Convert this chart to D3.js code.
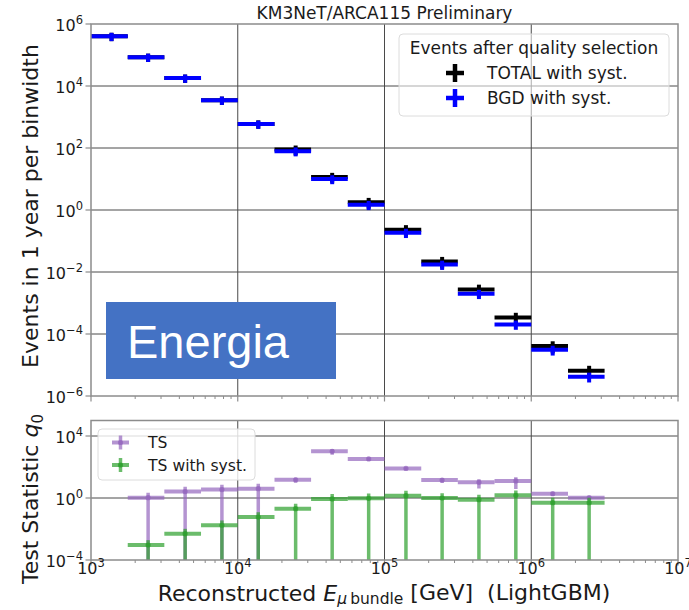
<!DOCTYPE html>
<html>
<head>
<meta charset="utf-8">
<script src="https://cdn.jsdelivr.net/npm/d3@7"></script>
<style>
  body { margin: 0; background: #fff; }
  text { font-family: "DejaVu Sans", sans-serif; }
</style>
</head>
<body>
<div id="chart"></div>
<script>
// energy bins (GeV): edges and marker positions
const binEdges = [1e3, 1.78e3, 3.16e3, 5.62e3, 1e4, 1.78e4, 3.16e4, 5.62e4, 1e5, 1.78e5, 3.16e5, 5.62e5, 1e6, 1.78e6, 3.16e6];
const binCenters = [1.38e3, 2.45e3, 4.38e3, 7.8e3, 1.38e4, 2.48e4, 4.4e4, 7.8e4, 1.4e5, 2.47e5, 4.4e5, 7.85e5, 1.4e6, 2.48e6];

// top panel: events in 1 year per binwidth
const totalEvents = [4.0e5, 8.5e4, 1.8e4, 3.5e3, 6.0e2, 89, 11.7, 1.78, 0.232, 0.0219, 2.75e-3, 3.4e-4, 4.1e-5, 6.5e-6];
const totalErr = [0.3, 0.3, 0.3, 0.3, 0.3, 0.35, 0.35, 0.38, 0.4, 0.4, 0.42, 0.42, 0.42, 0.45]; // relative
const bgdEvents = [4.0e5, 8.5e4, 1.8e4, 3.5e3, 5.9e2, 79, 10, 1.48, 0.186, 0.0174, 2.0e-3, 2.04e-4, 3.1e-5, 4.2e-6];
const bgdErr = [0.3, 0.3, 0.3, 0.3, 0.3, 0.32, 0.32, 0.33, 0.33, 0.33, 0.33, 0.33, 0.35, 0.35];

// bottom panel: test statistic q0 (bins 2..14)
const tsValues = [1.05, 2.6, 3.5, 4.0, 15, 1020, 330, 81, 14.5, 10.2, 12.6, 1.9, 1.05];
const tsErr = [1.05, 1.05, 1.05, 1.05, 0.35, 0.4, 0.25, 0.25, 0.35, 0.6, 0.7, 0.3, 0.3];
const tsSystValues = [9.3e-4, 5.0e-3, 0.0174, 0.059, 0.204, 0.87, 0.95, 1.41, 1.0, 0.78, 1.48, 0.5, 0.5];
const tsSystErr = [1.05, 1.05, 1.05, 1.05, 1.05, 1.05, 1.05, 1.05, 1.05, 1.05, 1.05, 1.05, 1.05];

const xDecades = [1e3, 1e4, 1e5, 1e6, 1e7];
const yTopTicks = [1e6, 1e4, 1e2, 1e0, 1e-2, 1e-4, 1e-6];
const yBotTicks = [1e4, 1e0, 1e-4];

const width = 689, height = 610;
const svg = d3.select("#chart").append("svg")
    .attr("width", width).attr("height", height);

const x = d3.scaleLog().domain([1e3, 1e7]).range([91, 678]);
const yTop = d3.scaleLog().domain([1e-6, 1e6]).range([396, 24]);
const yBot = d3.scaleLog().domain([1e-4, 1e5]).range([560, 420.5]);

const spineColor = "#8c8c8c", gridColor = "#4a4a4a";

function powLabel(sel) {
    sel.each(function (d) {
        const t = d3.select(this);
        const e = Math.round(Math.log10(d));
        t.text(null);
        t.append("tspan").text("10");
        t.append("tspan").attr("dy", "-0.6em").attr("font-size", "11.5px")
            .text(String(e).replace("-", "\u2212"));
    });
}

function panel(y, name) {
    const [y0, y1] = y.range();
    svg.append("clipPath").attr("id", "clip-" + name)
        .append("rect").attr("x", x.range()[0]).attr("y", y1)
        .attr("width", x.range()[1] - x.range()[0]).attr("height", y0 - y1);
    const g = svg.append("g");
    // grid
    g.selectAll(".vg").data([1e4, 1e5, 1e6]).enter().append("line")
        .attr("x1", d => x(d)).attr("x2", d => x(d))
        .attr("y1", y1).attr("y2", y0)
        .attr("stroke", gridColor).attr("stroke-width", 1);
    return g;
}

function frame(y, ticks, showXLabels) {
    const [y0, y1] = y.range();
    const [xa, xb] = x.range();
    const g = svg.append("g");
    // minor x ticks
    const minor = [];
    for (let k = 1e3; k < 1e7; k *= 10) [2, 3, 4, 5, 6, 7, 8, 9].forEach(m => minor.push(k * m));
    g.selectAll(".mx").data(minor).enter().append("line")
        .attr("x1", d => x(d)).attr("x2", d => x(d))
        .attr("y1", y0).attr("y2", y0 + 3)
        .attr("stroke", spineColor).attr("stroke-width", 1);
    g.selectAll(".Mx").data(xDecades).enter().append("line")
        .attr("x1", d => x(d)).attr("x2", d => x(d))
        .attr("y1", y0).attr("y2", y0 + 5.5)
        .attr("stroke", spineColor).attr("stroke-width", 1.2);
    g.selectAll(".My").data(ticks).enter().append("line")
        .attr("x1", xa - 5.5).attr("x2", xa)
        .attr("y1", d => y(d)).attr("y2", d => y(d))
        .attr("stroke", spineColor).attr("stroke-width", 1.2);
    g.append("rect").attr("x", xa).attr("y", y1)
        .attr("width", xb - xa).attr("height", y0 - y1)
        .attr("fill", "none").attr("stroke", spineColor).attr("stroke-width", 1.5);
    g.selectAll(".yl").data(ticks).enter().append("text")
        .attr("x", xa - 8).attr("y", d => y(d) + 7)
        .attr("text-anchor", "end").attr("font-size", "16px").attr("fill", "#1a1a1a")
        .call(powLabel);
    if (showXLabels) {
        g.selectAll(".xl").data(xDecades).enter().append("text")
            .attr("x", d => x(d)).attr("y", y0 + 13.5)
            .attr("text-anchor", "middle").attr("font-size", "16px").attr("fill", "#1a1a1a")
            .call(powLabel);
    }
}

function errorbars(g, y, values, rel, offset, color, opts) {
    const rows = values.map((v, i) => ({
        v, e: v * rel[i],
        x0: binEdges[i + offset], x1: binEdges[i + offset + 1], xc: binCenters[i + offset]
    }));
    const lo = y.domain()[0] / 10;
    const s = g.append("g").attr("clip-path", opts.clip);
    s.selectAll(".h").data(rows).enter().append("line")
        .attr("x1", d => x(d.x0)).attr("x2", d => x(d.x1))
        .attr("y1", d => y(d.v)).attr("y2", d => y(d.v))
        .attr("stroke", color).attr("stroke-width", opts.hw)
        .attr("stroke-opacity", opts.alpha);
    s.selectAll(".v").data(rows).enter().append("line")
        .attr("x1", d => x(d.xc)).attr("x2", d => x(d.xc))
        .attr("y1", d => y(Math.max(d.v - d.e, lo))).attr("y2", d => y(d.v + d.e))
        .attr("stroke", color).attr("stroke-width", opts.vw)
        .attr("stroke-opacity", opts.alpha);
    if (opts.marker) {
        s.selectAll(".m").data(rows).enter().append("circle")
            .attr("cx", d => x(d.xc)).attr("cy", d => y(d.v)).attr("r", opts.marker)
            .attr("fill", color).attr("fill-opacity", opts.alpha);
    }
}

// ---------- top panel ----------
const topG = panel(yTop, "top");
topG.selectAll(".hg").data([1e4, 1e2, 1e0, 1e-2, 1e-4]).enter().append("line")
    .attr("x1", x.range()[0]).attr("x2", x.range()[1])
    .attr("y1", d => yTop(d)).attr("y2", d => yTop(d))
    .attr("stroke", gridColor).attr("stroke-width", 1);

errorbars(topG, yTop, totalEvents, totalErr, 0, "#000000", { clip: "url(#clip-top)", hw: 4, vw: 4, alpha: 1 });
errorbars(topG, yTop, bgdEvents, bgdErr, 0, "#0000ff", { clip: "url(#clip-top)", hw: 4, vw: 4, alpha: 1 });

frame(yTop, yTopTicks, false);

// top legend
const lg = svg.append("g");
lg.append("rect").attr("x", 399).attr("y", 34).attr("width", 270).attr("height", 82)
    .attr("rx", 4).attr("fill", "#fff").attr("fill-opacity", 0.55)
    .attr("stroke", "#dcdcdc").attr("stroke-width", 1);
lg.append("text").attr("x", 534).attr("y", 54).attr("text-anchor", "middle")
    .attr("font-size", "17px").attr("fill", "#1a1a1a").text("Events after quality selection");
[["TOTAL with syst.", "#000000", 73], ["BGD with syst.", "#0000ff", 98]].forEach(([label, c, cy]) => {
    lg.append("line").attr("x1", 446).attr("x2", 464).attr("y1", cy).attr("y2", cy)
        .attr("stroke", c).attr("stroke-width", 4.5);
    lg.append("line").attr("x1", 455).attr("x2", 455).attr("y1", cy - 9).attr("y2", cy + 9)
        .attr("stroke", c).attr("stroke-width", 4.5);
    lg.append("text").attr("x", 487).attr("y", cy + 6)
        .attr("font-size", "17px").attr("fill", "#1a1a1a").text(label);
});

// title
svg.append("text").attr("x", (x.range()[0] + x.range()[1]) / 2).attr("y", 19)
    .attr("text-anchor", "middle").attr("font-size", "17px").attr("fill", "#1a1a1a")
    .text("KM3NeT/ARCA115 Preliminary");

// "Energia" overlay box
svg.append("rect").attr("x", 106).attr("y", 302).attr("width", 230).attr("height", 77)
    .attr("fill", "#4472c4");
svg.append("text").attr("x", 127).attr("y", 358)
    .style("font-family", "'Liberation Sans', Arial, sans-serif")
    .attr("font-size", "47px").attr("fill", "#fff").text("Energia");

// ---------- bottom panel ----------
const botG = panel(yBot, "bot");
botG.selectAll(".hg").data([1e4, 1e0]).enter().append("line")
    .attr("x1", x.range()[0]).attr("x2", x.range()[1])
    .attr("y1", d => yBot(d)).attr("y2", d => yBot(d))
    .attr("stroke", gridColor).attr("stroke-width", 1);

errorbars(botG, yBot, tsValues, tsErr, 1, "#9467bd", { clip: "url(#clip-bot)", hw: 4, vw: 3.5, alpha: 0.7, marker: 2.6 });
errorbars(botG, yBot, tsSystValues, tsSystErr, 1, "#2ca02c", { clip: "url(#clip-bot)", hw: 4, vw: 3.5, alpha: 0.7, marker: 2.6 });

// bottom legend
const lb = svg.append("g");
lb.append("rect").attr("x", 98).attr("y", 429).attr("width", 157).attr("height", 51)
    .attr("rx", 4).attr("fill", "#fff").attr("fill-opacity", 0.8)
    .attr("stroke", "#dcdcdc").attr("stroke-width", 1);
[["TS", "#9467bd", 442.5], ["TS with syst.", "#2ca02c", 465]].forEach(([label, c, cy]) => {
    lb.append("line").attr("x1", 112).attr("x2", 129).attr("y1", cy).attr("y2", cy)
        .attr("stroke", c).attr("stroke-width", 4).attr("stroke-opacity", 0.7);
    lb.append("line").attr("x1", 120.5).attr("x2", 120.5).attr("y1", cy - 7).attr("y2", cy + 7)
        .attr("stroke", c).attr("stroke-width", 3.5).attr("stroke-opacity", 0.7);
    lb.append("circle").attr("cx", 120.5).attr("cy", cy).attr("r", 2.6)
        .attr("fill", c).attr("fill-opacity", 0.7);
    lb.append("text").attr("x", 148).attr("y", cy + 5.5)
        .attr("font-size", "15.6px").attr("fill", "#1a1a1a").text(label);
});

frame(yBot, yBotTicks, true);

// axis labels
svg.append("text")
    .attr("transform", "translate(38,206) rotate(-90)")
    .attr("text-anchor", "middle").attr("font-size", "22px").attr("fill", "#1a1a1a")
    .text("Events in 1 year per binwidth");

const yl2 = svg.append("text")
    .attr("transform", "translate(38,499) rotate(-90)")
    .attr("text-anchor", "middle").attr("font-size", "22px").attr("fill", "#1a1a1a");
yl2.append("tspan").text("Test Statistic ");
yl2.append("tspan").attr("font-style", "italic").text("q");
yl2.append("tspan").attr("dy", "0.3em").attr("font-size", "15px").text("0");

const xl = svg.append("text")
    .attr("x", 384).attr("y", 601)
    .attr("text-anchor", "middle").attr("font-size", "22px").attr("fill", "#1a1a1a")
    .style("white-space", "pre");
xl.append("tspan").text("Reconstructed ");
xl.append("tspan").attr("font-style", "italic").text("E");
xl.append("tspan").attr("dy", "0.22em").attr("font-size", "15.5px").attr("font-style", "italic").text("\u03bc");
xl.append("tspan").attr("font-size", "15.5px").text("\u2009bundle");
xl.append("tspan").attr("dy", "-0.22em").text(" [GeV]  (LightGBM)");
</script>
</body>
</html>
